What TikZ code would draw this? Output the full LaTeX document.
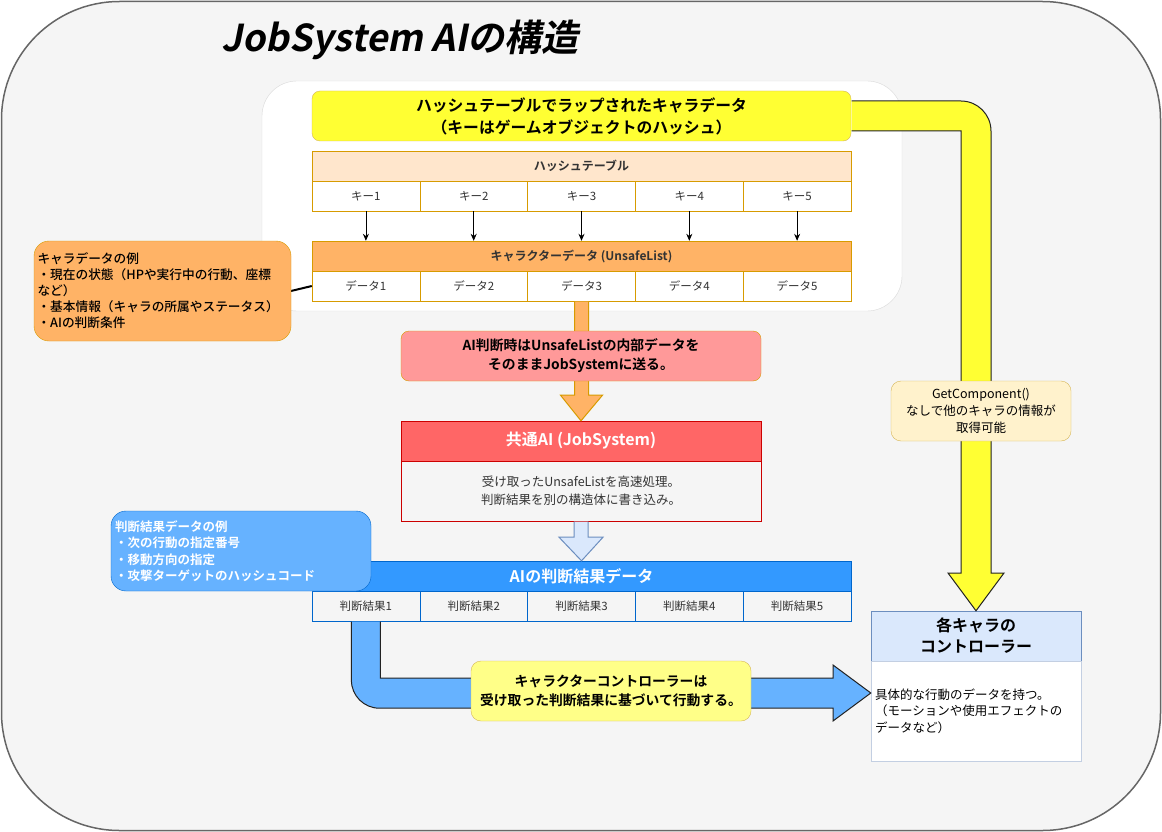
\documentclass[tikz,border=0pt]{standalone}
\usepackage{fontspec}
\setmainfont{Noto Sans CJK JP}[BoldFont=* Bold]
\newfontfamily\titlefont{Noto Sans CJK JP}[BoldFont=* Bold, FakeSlant=0.2]
\newfontfamily\medfont{Noto Sans CJK JP Medium}
\usetikzlibrary{calc,arrows.meta}
\definecolor{bgc}{HTML}{F5F5F5}
\definecolor{outerc}{HTML}{666666}
\definecolor{panelc}{HTML}{D9D9D9}
\definecolor{yfill}{HTML}{FFFF33}
\definecolor{ystroke}{HTML}{D6B656}
\definecolor{hhfill}{HTML}{FFE6CC}
\definecolor{ostroke}{HTML}{D79B00}
\definecolor{ofill}{HTML}{FFB366}
\definecolor{pinkfill}{HTML}{FF9999}
\definecolor{redfill}{HTML}{FF6666}
\definecolor{redstroke}{HTML}{CC0000}
\definecolor{lbfill}{HTML}{DAE8FC}
\definecolor{lbstroke}{HTML}{6C8EBF}
\definecolor{bfill}{HTML}{3399FF}
\definecolor{bstroke}{HTML}{0066CC}
\definecolor{bnfill}{HTML}{66B2FF}
\definecolor{ynfill}{HTML}{FFFF88}
\definecolor{gnfill}{HTML}{FFF2CC}
\definecolor{txtgray}{HTML}{333333}
\definecolor{cbstroke}{HTML}{C3CFE2}
\definecolor{arrowline}{HTML}{222222}
\begin{document}
\begin{tikzpicture}[x=1pt,y=-1pt,
  fs/.style 2 args={font=\fontsize{#1}{#2}\selectfont},
  keycell/.style={draw=ostroke, fill=white, minimum width=107.8pt, minimum height=30pt, inner sep=0pt, text=txtgray, fs={11.5}{14}},
  rescell/.style={draw=bstroke, fill=bgc, minimum width=107.8pt, minimum height=30pt, inner sep=0pt, text=txtgray, fs={11.5}{14}},
  wide/.style={minimum width=539pt, minimum height=30pt, inner sep=0pt},
  bigarrow/.style={line width=1pt, line join=miter},
  keyarrow/.style={-{Stealth[length=7pt,width=6pt]}, line width=0.8pt}
]
\useasboundingbox (0,0) rectangle (1162,832);
% outer container
\draw[draw=outerc, fill=bgc, line width=1.5pt, rounded corners=118pt] (1.5,1.5) rectangle (1160.5,830.5);
\node[anchor=center, font=\titlefont\bfseries\fontsize{37}{42}\selectfont] (title) at (400,40) {JobSystem AIの構造};

% white panel
\node[draw=panelc, fill=white, rounded corners=35pt, minimum width=640pt, minimum height=230pt] (panel) at (582,196) {};

% controller (needed for arrows)
\node[draw=lbstroke, fill=lbfill, minimum width=210pt, minimum height=50pt, inner sep=0pt, align=center, font=\bfseries\fontsize{16}{21}\selectfont] (ch) at (976,636) {各キャラの\\コントローラー};
\node[draw=cbstroke, fill=white, minimum width=210pt, minimum height=100pt, inner sep=0pt, text width=202pt, align=left, fs={12.5}{16.5}] (cb) at (976,711) {具体的な行動のデータを持つ。\\（モーションや使用エフェクトの\\データなど）};

% yellow title box
\node[draw=ystroke, fill=yfill, rounded corners=8pt, minimum width=539pt, minimum height=50pt, inner sep=0pt, align=center, font=\bfseries\fontsize{15.8}{22}\selectfont] (ybox) at (581.5,116) {ハッシュテーブルでラップされたキャラデータ\\（キーはゲームオブジェクトのハッシュ）};

% yellow big arrow
\draw[bigarrow, draw=arrowline, fill=yfill] ($(ybox.east)+(0.5,-15)$) -- (961,101) arc[start angle=270, end angle=360, radius=30] -- (991,573) -- (1004,573) -- (ch.north) -- (948,573) -- (961,573) -- (961,131) -- ($(ybox.east)+(0.5,15)$);

% hash table
\node[draw=ostroke, fill=hhfill, wide, text=txtgray, font=\bfseries\fontsize{12}{14}\selectfont] (hh) at (581.5,166) {ハッシュテーブル};
\node[keycell] (k1) at (365.9,196) {キー1};
\node[keycell] (k2) at (473.7,196) {キー2};
\node[keycell] (k3) at (581.5,196) {キー3};
\node[keycell] (k4) at (689.3,196) {キー4};
\node[keycell] (k5) at (797.1,196) {キー5};

\node[draw=ostroke, fill=ofill, wide, text=txtgray, font=\bfseries\fontsize{12}{14}\selectfont] (dh) at (581.5,256) {キャラクターデータ (UnsafeList)};
\node[keycell] (d1) at (365.9,286) {データ1};
\node[keycell] (d2) at (473.7,286) {データ2};
\node[keycell] (d3) at (581.5,286) {データ3};
\node[keycell] (d4) at (689.3,286) {データ4};
\node[keycell] (d5) at (797.1,286) {データ5};

\foreach \i in {1,...,5} {\draw[keyarrow] (k\i.south) -- (k\i.south |- dh.north);}

% AI header/body
\node[draw=redstroke, fill=redfill, minimum width=360pt, minimum height=40pt, inner sep=0pt, text=white, font=\bfseries\fontsize{16}{20}\selectfont] (aih) at (581,441) {共通AI (JobSystem)};
\node[draw=redstroke, fill=bgc, minimum width=360pt, minimum height=60pt, inner sep=0pt, align=center, text=txtgray, fs={12.5}{18}] (aib) at (581,491) {受け取ったUnsafeListを高速処理。\\判断結果を別の構造体に書き込み。};

% orange arrow
\draw[bigarrow, draw=ostroke, fill=ofill] ($(d3.south)+(-7,0.5)$) -- ($(d3.south)+(-7,94)$) -- ($(d3.south)+(-21,94)$) -- (aih.north) -- ($(d3.south)+(21,94)$) -- ($(d3.south)+(7,94)$) -- ($(d3.south)+(7,0.5)$);

% pink box
\node[draw=ostroke, fill=pinkfill, rounded corners=8pt, minimum width=360pt, minimum height=50pt, inner sep=0pt, align=center, font=\bfseries\fontsize{13.8}{19}\selectfont] (pbox) at (581,356) {AI判断時はUnsafeListの内部データを\\そのままJobSystemに送る。};

% result header and cells
\node[draw=bstroke, fill=bfill, wide, text=white, font=\bfseries\fontsize{16}{20}\selectfont] (bh) at (581.5,576) {AIの判断結果データ};
\node[rescell] (r1) at (365.9,606) {判断結果1};
\node[rescell] (r2) at (473.7,606) {判断結果2};
\node[rescell] (r3) at (581.5,606) {判断結果3};
\node[rescell] (r4) at (689.3,606) {判断結果4};
\node[rescell] (r5) at (797.1,606) {判断結果5};

% light blue small arrow
\draw[bigarrow, draw=lbstroke, fill=lbfill] ($(aib.south)+(-7,0.5)$) -- ($(aib.south)+(-7,16)$) -- ($(aib.south)+(-22,16)$) -- (bh.north) -- ($(aib.south)+(22,16)$) -- ($(aib.south)+(7,16)$) -- ($(aib.south)+(7,0.5)$);

% blue note
\node[draw=bstroke, fill=bnfill, rounded corners=15pt, minimum width=260pt, minimum height=80pt, inner sep=0pt, text width=252pt, align=left, text=white, font=\bfseries\fontsize{12.5}{16.5}\selectfont] (bnote) at (241,551) {判断結果データの例\\・次の行動の指定番号\\・移動方向の指定\\・攻撃ターゲットのハッシュコード};

% blue L arrow
\draw[bigarrow, draw=arrowline, fill=bnfill] ($(r1.south)+(-14.5,0.5)$) -- ($(r1.south)+(-14.5,59)$) arc[start angle=180, end angle=90, radius=28] -- (833,708) -- (833,721) -- ($(cb.west)+(0,-18)$) -- (833,665) -- (833,678) -- ($(r1.south)+(14.5,57)$) -- ($(r1.south)+(14.5,0.5)$);

% yellow note on arrow
\node[draw=ystroke, fill=ynfill, rounded corners=10pt, minimum width=280pt, minimum height=60pt, inner sep=0pt, align=center, font=\bfseries\fontsize{13.8}{19}\selectfont] (ynote) at (611,691) {キャラクターコントローラーは\\受け取った判断結果に基づいて行動する。};

% GetComponent note
\node[draw=ystroke, fill=gnfill, rounded corners=10pt, minimum width=180pt, minimum height=60pt, inner sep=0pt, align=center, fs={12.5}{17}] (gnote) at (981,411) {GetComponent()\\なしで他のキャラの情報が\\取得可能};

% orange note
\draw[line width=2pt] (291,291) -- (d1.west);
\node[draw=ostroke, fill=ofill, rounded corners=15pt, minimum width=257pt, minimum height=100pt, inner sep=0pt, text width=250pt, align=left, font=\medfont\fontsize{12.7}{16}\selectfont] (onote) at (162.5,291) {キャラデータの例\\・現在の状態（HPや実行中の行動、座標\\など）\\・基本情報（キャラの所属やステータス）\\・AIの判断条件};
\end{tikzpicture}
\end{document}
